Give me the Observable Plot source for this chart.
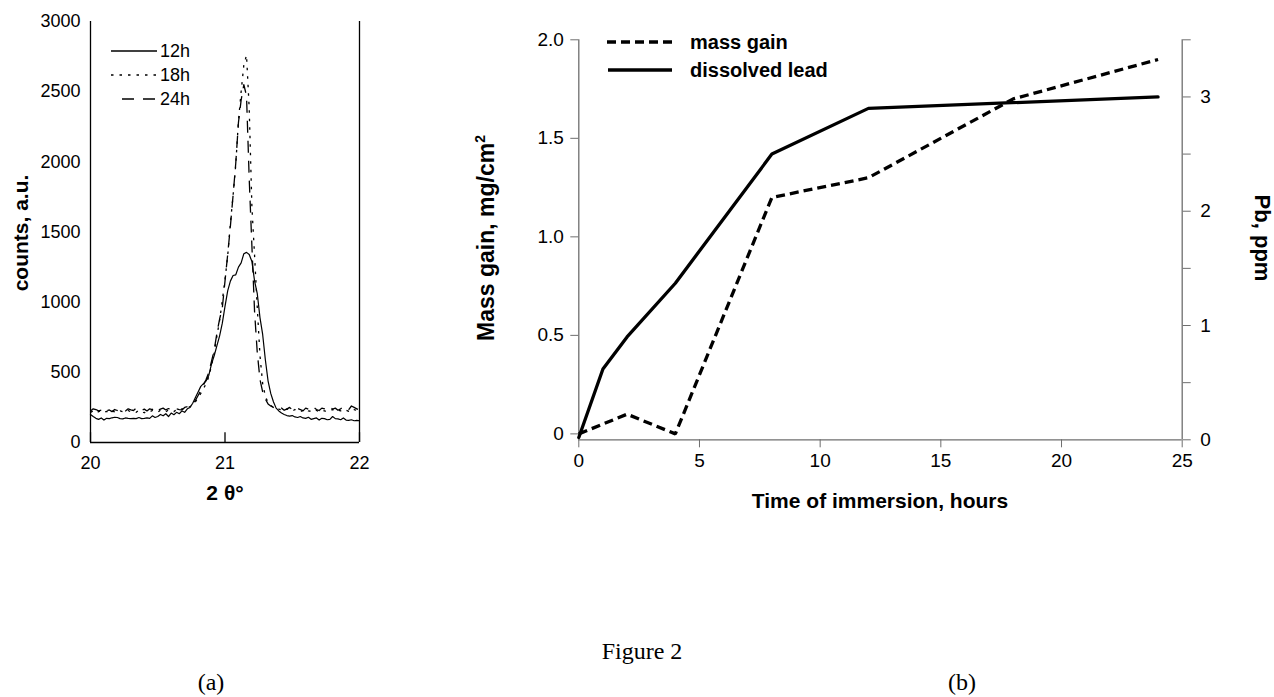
<!DOCTYPE html>
<html><head><meta charset="utf-8">
<script src="https://cdn.jsdelivr.net/npm/d3@7"></script>
<script src="https://cdn.jsdelivr.net/npm/@observablehq/plot@0.6"></script>
<style>
body{margin:0;background:#fff;width:1274px;height:697px;position:relative;overflow:hidden;font-family:"Liberation Sans",Arial,sans-serif;color:#000;}
.abs{position:absolute;left:0;top:0;}
.title{position:absolute;font-weight:bold;font-size:21px;white-space:nowrap;transform:translate(-50%,-50%);}
.rot-l{transform:translate(-50%,-50%) rotate(-90deg);}
.rot-r{transform:translate(-50%,-50%) rotate(90deg);}
.cap{position:absolute;font-family:"Liberation Serif","Times New Roman",serif;font-size:24px;white-space:nowrap;transform:translate(-50%,-50%);}
sup{font-size:14px;}
</style></head><body>
<div id="chartA" class="abs"></div>
<div id="chartB1" class="abs" style="left:460px"></div>
<div id="chartB2" class="abs" style="left:460px"></div>
<svg id="legends" class="abs" width="1274" height="697" style="pointer-events:none"></svg>
<div class="title rot-l" style="left:21px;top:233px">counts, a.u.</div>
<div class="title" style="left:225px;top:493px">2 θ°</div>
<div class="title rot-l" style="left:486px;top:238px;font-size:23px">Mass gain, mg/cm<sup>2</sup></div>
<div class="title rot-r" style="left:1262px;top:238px;font-size:22px">Pb, ppm</div>
<div class="title" style="left:880px;top:501px">Time of immersion, hours</div>
<div class="cap" style="left:642px;top:651px">Figure 2</div>
<div class="cap" style="left:211px;top:682px">(a)</div>
<div class="cap" style="left:962px;top:682px">(b)</div>
<script>
// ---------- Data: (a) XRD peak ----------
const twoTheta = [20.00,20.02,20.04,20.06,20.08,20.10,20.12,20.14,20.16,20.18,
 20.20,20.22,20.24,20.26,20.28,20.30,20.32,20.34,20.36,20.38,
 20.40,20.42,20.44,20.46,20.48,20.50,20.52,20.54,20.56,20.58,
 20.60,20.62,20.64,20.66,20.68,20.70,20.72,20.74,20.76,20.78,
 20.80,20.82,20.84,20.86,20.88,20.90,20.92,20.94,20.96,20.98,
 21.00,21.02,21.04,21.06,21.08,21.10,21.12,21.14,21.16,21.18,
 21.20,21.22,21.24,21.26,21.28,21.30,21.32,21.34,21.36,21.38,
 21.40,21.42,21.44,21.46,21.48,21.50,21.52,21.54,21.56,21.58,
 21.60,21.62,21.64,21.66,21.68,21.70,21.72,21.74,21.76,21.78,
 21.80,21.82,21.84,21.86,21.88,21.90,21.92,21.94,21.96,21.98,
 22.00];
const counts12h = [200,185,172,165,175,160,172,170,176,180,
 178,170,168,175,172,170,172,170,178,170,
 172,175,172,190,178,185,200,190,205,185,
 210,198,215,205,225,215,240,250,280,320,
 360,400,420,440,480,560,620,690,760,850,
 970,1080,1150,1190,1195,1250,1280,1345,1355,1340,
 1290,1150,1060,890,770,590,440,350,290,245,
 225,210,200,192,188,192,182,178,185,175,
 172,180,165,170,175,160,172,170,162,165,
 185,170,168,162,175,160,158,162,155,158,
 155];
const counts18h = [215,225,210,220,228,215,222,210,225,218,
 212,225,220,215,228,218,222,215,230,220,
 212,225,218,228,220,215,230,222,218,232,
 225,220,235,228,240,238,250,255,275,290,
 320,350,385,420,470,550,640,760,870,1010,
 1160,1330,1560,1760,1980,2290,2500,2690,2760,2380,
 1680,1330,960,620,420,330,285,265,250,240,
 238,232,225,240,228,222,235,225,218,230,
 240,225,222,235,228,220,232,225,218,228,
 235,222,230,225,238,230,222,240,235,228,
 220];
const counts24h = [225,240,235,225,230,245,225,232,220,235,
 228,238,230,225,240,232,228,245,235,230,
 238,225,240,235,250,228,238,245,232,242,
 238,228,240,235,232,250,255,262,280,300,
 335,370,410,450,500,580,660,780,880,960,
 1150,1340,1540,1760,1990,2280,2440,2550,2470,1880,
 1400,930,640,450,360,310,275,260,250,240,
 235,245,230,238,250,235,228,242,235,225,
 245,238,230,250,235,228,245,240,232,250,
 238,245,230,240,255,245,235,260,250,240,
 230];
const countTicks = [0,500,1000,1500,2000,2500,3000];
const thetaTicks = [20,21,22];

// ---------- Data: (b) mass gain and dissolved lead ----------
const massTimes = [0,2,4,8,12,18,24];
const massGain  = [0,0.1,0,1.2,1.3,1.7,1.9];
const leadTimes = [0,1,2,4,8,12,24];
const leadPpm   = [0.02,0.62,0.9,1.37,2.5,2.9,3.0];
const timeTicks = [0,5,10,15,20,25];
const massTicks = [0,0.5,1.0,1.5,2.0];
const ppmTicks  = [0,0.5,1,1.5,2,2.5,3,3.5];

const rowsA = (ys) => twoTheta.map((x,i)=>({x, y: ys[i]}));

// ---------- Chart (a) ----------
const chartA = Plot.plot({
  width: 400, height: 520,
  marginLeft: 90, marginRight: 41, marginTop: 21, marginBottom: 78,
  style: {fontFamily: "Liberation Sans, Arial, sans-serif", fontSize: "18px", color: "#000", background: "transparent", overflow: "visible"},
  x: {domain: [20, 22]},
  y: {domain: [0, 3000]},
  marks: [
    Plot.axisY({ticks: countTicks, tickSize: 0, tickPadding: 10, label: null, tickFormat: d => String(d)}),
    Plot.axisX({ticks: thetaTicks, tickSize: 0, tickPadding: 14, label: null, tickFormat: d => String(d)}),
    Plot.ruleX([20, 22], {stroke: "#000", strokeWidth: 1.3}),
    Plot.ruleY([0], {stroke: "#000", strokeWidth: 1.3}),
    Plot.ruleX(thetaTicks, {y1: 0, y2: 70, stroke: "#000", strokeWidth: 1.3}),
    Plot.line(rowsA(counts12h), {x: "x", y: "y", stroke: "#000", strokeWidth: 1.2}),
    Plot.line(rowsA(counts18h), {x: "x", y: "y", stroke: "#000", strokeWidth: 1.3, strokeDasharray: "2.5,6", strokeLinecap: "butt"}),
    Plot.line(rowsA(counts24h), {x: "x", y: "y", stroke: "#000", strokeWidth: 1.3, strokeDasharray: "12,8", strokeLinecap: "butt"})
  ]
});
document.getElementById("chartA").appendChild(chartA);

// ---------- Chart (b) ----------
const dimsB = {width: 814, height: 520, marginLeft: 118.3, marginRight: 92.3, marginTop: 39.3, marginBottom: 80.7};
const styleB = {fontFamily: "Liberation Sans, Arial, sans-serif", fontSize: "19px", color: "#000", background: "transparent", overflow: "visible"};
const axisGrey = "#6e6e6e";

const chartB1 = Plot.plot({
  ...dimsB, style: styleB,
  x: {domain: [0, 25]},
  y: {domain: [-0.03, 2.0]},
  marks: [
    Plot.axisY({ticks: massTicks, tickSize: 8, tickPadding: 7, label: null, stroke: axisGrey, tickFormat: d => d === 0 ? "0" : d.toFixed(1)}),
    Plot.axisX({ticks: timeTicks, tickSize: 8, tickPadding: 6, label: null, stroke: axisGrey, tickFormat: d => String(d)}),
    Plot.ruleX([0], {stroke: axisGrey, strokeWidth: 1.3}),
    Plot.ruleY([-0.03], {stroke: axisGrey, strokeWidth: 1.3}),
    Plot.line(massTimes.map((t,i)=>({t, v: massGain[i]})), {x: "t", y: "v", stroke: "#000", strokeWidth: 3.3, strokeDasharray: "9,5", strokeLinecap: "butt", strokeLinejoin: "miter"})
  ]
});
document.getElementById("chartB1").appendChild(chartB1);

const chartB2 = Plot.plot({
  ...dimsB, style: styleB,
  x: {domain: [0, 25], axis: null},
  y: {domain: [0, 3.5]},
  marks: [
    Plot.axisY({anchor: "right", ticks: ppmTicks, tickSize: 8, tickPadding: 10, label: null, stroke: axisGrey, tickFormat: d => Number.isInteger(d) ? String(d) : ""}),
    Plot.ruleX([25], {stroke: axisGrey, strokeWidth: 1.3}),
    Plot.line(leadTimes.map((t,i)=>({t, v: leadPpm[i]})), {x: "t", y: "v", stroke: "#000", strokeWidth: 3.3, strokeLinejoin: "miter"})
  ]
});
document.getElementById("chartB2").appendChild(chartB2);

// ---------- Legends ----------
const lg = d3.select("#legends");
const legA = [
  {label: "12h", y: 51, x1: 111, dash: null},
  {label: "18h", y: 75, x1: 111, dash: "2.5,6"},
  {label: "24h", y: 99, x1: 122, dash: "12,9"}
];
legA.forEach(d => {
  lg.append("line").attr("x1", d.x1).attr("x2", 157).attr("y1", d.y).attr("y2", d.y)
    .attr("stroke", "#000").attr("stroke-width", 1.3).attr("stroke-dasharray", d.dash);
  lg.append("text").attr("x", 160).attr("y", d.y).attr("dy", "0.35em")
    .attr("font-family", "Liberation Sans, Arial, sans-serif").attr("font-size", 18).text(d.label);
});
const legB = [
  {label: "mass gain", y: 42, x1: 607, dash: "9,5"},
  {label: "dissolved lead", y: 70, x1: 608, dash: null}
];
legB.forEach(d => {
  lg.append("line").attr("x1", d.x1).attr("x2", 672).attr("y1", d.y).attr("y2", d.y)
    .attr("stroke", "#000").attr("stroke-width", 3.3).attr("stroke-dasharray", d.dash);
  lg.append("text").attr("x", 690).attr("y", d.y).attr("dy", "0.35em")
    .attr("font-family", "Liberation Sans, Arial, sans-serif").attr("font-weight", "bold").attr("font-size", 20).text(d.label);
});
</script>
</body></html>
